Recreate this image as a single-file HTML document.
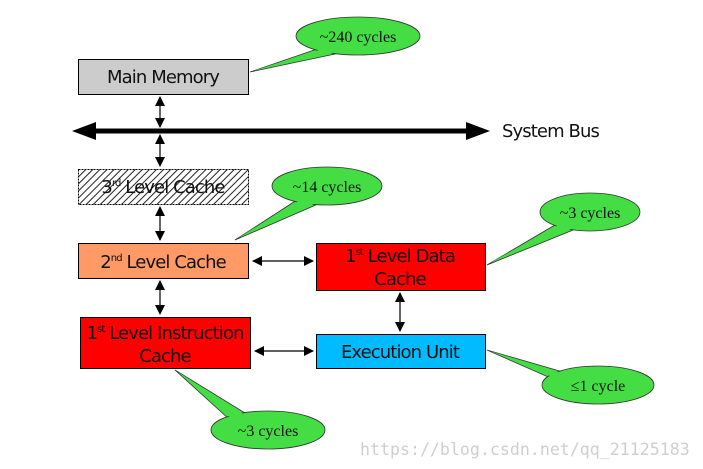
<!DOCTYPE html>
<html><head><meta charset="utf-8"><style>
body{margin:0;background:#fff;}
svg{display:block}
.t{font-family:"DejaVu Sans","Liberation Sans",sans-serif;font-size:18px;letter-spacing:-0.9px;fill:#111}
.b{font-family:"Liberation Serif",serif;font-size:16px;fill:#111}
</style></head><body>
<svg width="703" height="469" viewBox="0 0 703 469" xmlns="http://www.w3.org/2000/svg">
<defs>
<pattern id="h" width="5" height="5" patternUnits="userSpaceOnUse" patternTransform="rotate(45)">
<rect width="5" height="5" fill="#fff"/><line x1="0" y1="0" x2="0" y2="5" stroke="#222" stroke-width="2"/></pattern>
<marker id="a" markerWidth="10" markerHeight="10" refX="9" refY="5" orient="auto-start-reverse" markerUnits="userSpaceOnUse">
<path d="M0,0 L10,5 L0,10 z" fill="#000"/></marker>
</defs>
<g fill="#44dd44" stroke="#333" stroke-width="0.8">
<path d="M320,48 L250,72 L335,54 z"/><ellipse cx="358" cy="36" rx="62" ry="19"/>
<path d="M300,198 L235,240 L318,204 z"/><ellipse cx="327" cy="186" rx="55" ry="19"/>
<path d="M560,222 L487,265 L578,228 z"/><ellipse cx="590" cy="212" rx="50" ry="19"/>
<path d="M487,350 L570,374 L555,380 z"/><ellipse cx="598" cy="385" rx="56" ry="19"/>
<path d="M175,370 L250,416 L230,420 z"/><ellipse cx="268" cy="430" rx="57" ry="19"/>
</g>
<g stroke="none" fill="#44dd44"><path d="M322,49 L253,71 L333,53 z"/><path d="M302,199 L238,238 L316,203 z"/><path d="M562,223 L490,263 L576,227 z"/><path d="M490,351 L568,375 L557,379 z"/><path d="M178,372 L248,417 L232,419 z"/></g>
<text class="b" x="358" y="42" text-anchor="middle">~240 cycles</text>
<text class="b" x="327" y="192" text-anchor="middle">~14 cycles</text>
<text class="b" x="590" y="218" text-anchor="middle">~3 cycles</text>
<text class="b" x="598" y="391" text-anchor="middle">≤1 cycle</text>
<text class="b" x="268" y="436" text-anchor="middle">~3 cycles</text>
<rect x="78.5" y="59.5" width="170" height="35" fill="#cccccc" stroke="#000"/>
<text class="t" x="163" y="83" text-anchor="middle">Main Memory</text>
<rect x="78.5" y="169.5" width="170" height="35" fill="url(#h)" stroke="#000" stroke-dasharray="2,1"/>
<text class="t" x="163" y="193" text-anchor="middle" fill="#333">3<tspan font-size="10" dy="-7">rd</tspan><tspan dy="7"> Level Cache</tspan></text>
<rect x="78.5" y="243.5" width="170" height="35" fill="#ff9966" stroke="#000"/>
<text class="t" x="163" y="268" text-anchor="middle">2<tspan font-size="10" dy="-7">nd</tspan><tspan dy="7"> Level Cache</tspan></text>
<rect x="316.5" y="243.5" width="169" height="47" fill="#ff0000" stroke="#000"/>
<text class="t" x="400" y="262" text-anchor="middle">1<tspan font-size="10" dy="-7">st</tspan><tspan dy="7"> Level Data</tspan></text>
<text class="t" x="400" y="285" text-anchor="middle">Cache</text>
<rect x="80.5" y="317.5" width="170" height="51" fill="#ff0000" stroke="#000"/>
<text class="t" x="165" y="339" text-anchor="middle">1<tspan font-size="10" dy="-7">st</tspan><tspan dy="7"> Level Instruction</tspan></text>
<text class="t" x="165" y="362" text-anchor="middle">Cache</text>
<rect x="316.5" y="334.5" width="169" height="34" fill="#00bbff" stroke="#000"/>
<text class="t" x="400" y="358" text-anchor="middle">Execution Unit</text>
<line x1="84" y1="131" x2="478" y2="131" stroke="#000" stroke-width="5"/>
<path d="M72,131 L96,122 L96,140 z M490,131 L466,122 L466,140 z" fill="#000"/>
<text class="t" x="502" y="137">System Bus</text>
<g stroke="#000" stroke-width="1.2" marker-start="url(#a)" marker-end="url(#a)">
<line x1="160" y1="97" x2="160" y2="127"/>
<line x1="160" y1="135" x2="160" y2="166"/>
<line x1="160" y1="207" x2="160" y2="240"/>
<line x1="160" y1="281" x2="160" y2="314"/>
<line x1="400" y1="293" x2="400" y2="331"/>
<line x1="253" y1="261" x2="313" y2="261"/>
<line x1="255" y1="351" x2="313" y2="351"/>
</g>
<text x="360" y="455" font-family="'DejaVu Sans Mono','Liberation Mono',monospace" font-size="16.6" fill="#cfcfcf">https://blog.csdn.net/qq_21125183</text>
</svg>
</body></html>
